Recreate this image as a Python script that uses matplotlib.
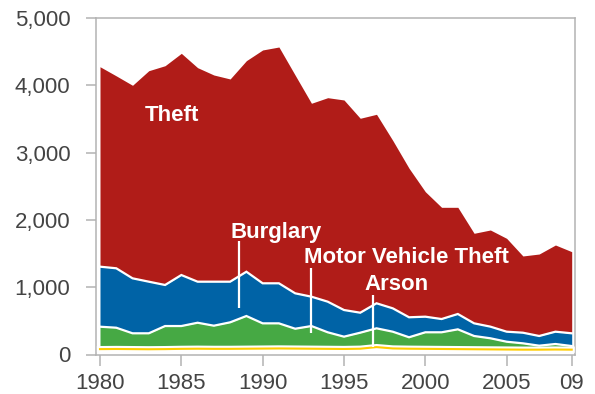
import matplotlib
matplotlib.use("Agg")
import matplotlib.pyplot as plt
import matplotlib.patheffects as pe
import numpy as np

# Annual counts by offence type, 1980-2009
years = list(range(1980, 2010))
arson = [80, 82, 80, 78, 80, 84, 86, 84, 84, 86, 88, 90, 88, 86, 84,
         82, 86, 110, 90, 86, 84, 82, 80, 78, 76, 74, 72, 72, 74, 72]
motor_vehicle_theft = [333, 316, 235, 237, 343, 339, 386, 344, 394, 486,
                       375, 373, 295, 337, 246, 183, 238, 279, 249, 170,
                       246, 248, 294, 197, 165, 116, 94, 59, 82, 54]
burglary = [892, 883, 817, 767, 610, 758, 610, 654, 604, 658,
            595, 595, 526, 436, 455, 396, 297, 372, 347, 297,
            232, 197, 228, 188, 173, 149, 158, 144, 183, 189]
theft = [2971, 2859, 2868, 3135, 3258, 3294, 3180, 3071, 3012, 3136,
         3467, 3511, 3241, 2874, 3031, 3121, 2889, 2808, 2494, 2214,
         1857, 1660, 1585, 1338, 1436, 1387, 1140, 1218, 1288, 1213]

tick_years = [1980, 1985, 1990, 1995, 2000, 2005, 2009]
tick_labels = ["1980", "1985", "1990", "1995", "2000", "2005", "09"]
y_ticks = [0, 1000, 2000, 3000, 4000, 5000]

RED = "#B01C18"
BLUE = "#0063A6"
GREEN = "#46A944"
YELLOW = "#FFCC00"
AXIS_GREY = "#B3B3B3"
TEXT_GREY = "#444444"

x = np.array(years)
a = np.array(arson)
m = a + np.array(motor_vehicle_theft)
b = m + np.array(burglary)
t = b + np.array(theft)

fig = plt.figure(figsize=(5.95, 3.94), dpi=100)
ax = fig.add_axes([96 / 595, 1 - 354.5 / 394, (575 - 96) / 595, (354.5 - 18) / 394])

ax.fill_between(x, b, t, color=RED, lw=0, zorder=1)
ax.fill_between(x, m, b, color=BLUE, lw=0, zorder=1)
ax.fill_between(x, a, m, color=GREEN, lw=0, zorder=1)

ax.plot(x, b, color="white", lw=1.6, zorder=2, solid_joinstyle="miter")
ax.plot(x, m, color="white", lw=1.6, zorder=2, solid_joinstyle="miter")
ax.plot(x, a, color=YELLOW, lw=1.5, zorder=3,
        path_effects=[pe.Stroke(linewidth=4.5, foreground="white"), pe.Normal()])

label_kw = dict(color="white", fontsize=16, fontweight="bold",
                family=["Liberation Sans", "DejaVu Sans"], zorder=5)
ax.text(1984.4, 3550, "Theft", ha="center", va="center", **label_kw)
ax.text(1990.85, 1820, "Burglary", ha="center", va="center", **label_kw)
ax.text(1998.84, 1434, "Motor Vehicle Theft", ha="center", va="center", **label_kw)
ax.text(1998.2, 1033, "Arson", ha="center", va="center", **label_kw)

ax.vlines(1988.56, 690, 1680, color="white", lw=1.6, zorder=4)
ax.vlines(1992.97, 315, 1280, color="white", lw=1.6, zorder=4)
ax.vlines(1996.76, 110, 885, color="white", lw=1.6, zorder=4)

ax.set_xlim(1980 - 4 / 16.265, 2009 + 3.3 / 16.265)
ax.set_ylim(0, 5000)
ax.set_xticks(tick_years)
ax.set_xticklabels(tick_labels)
ax.set_yticks(y_ticks)
ax.set_yticklabels([f"{v:,}" for v in y_ticks])

for s in ax.spines.values():
    s.set_color(AXIS_GREY)
    s.set_linewidth(1.1)
ax.tick_params(axis="both", direction="out", color=AXIS_GREY, width=1.1,
               labelcolor=TEXT_GREY, labelsize=16)
ax.tick_params(axis="y", length=7.5, pad=11)
ax.tick_params(axis="x", length=8, pad=5)
for lbl in ax.get_xticklabels() + ax.get_yticklabels():
    lbl.set_family(["Liberation Sans", "DejaVu Sans"])

fig.savefig("out.png", dpi=100)
